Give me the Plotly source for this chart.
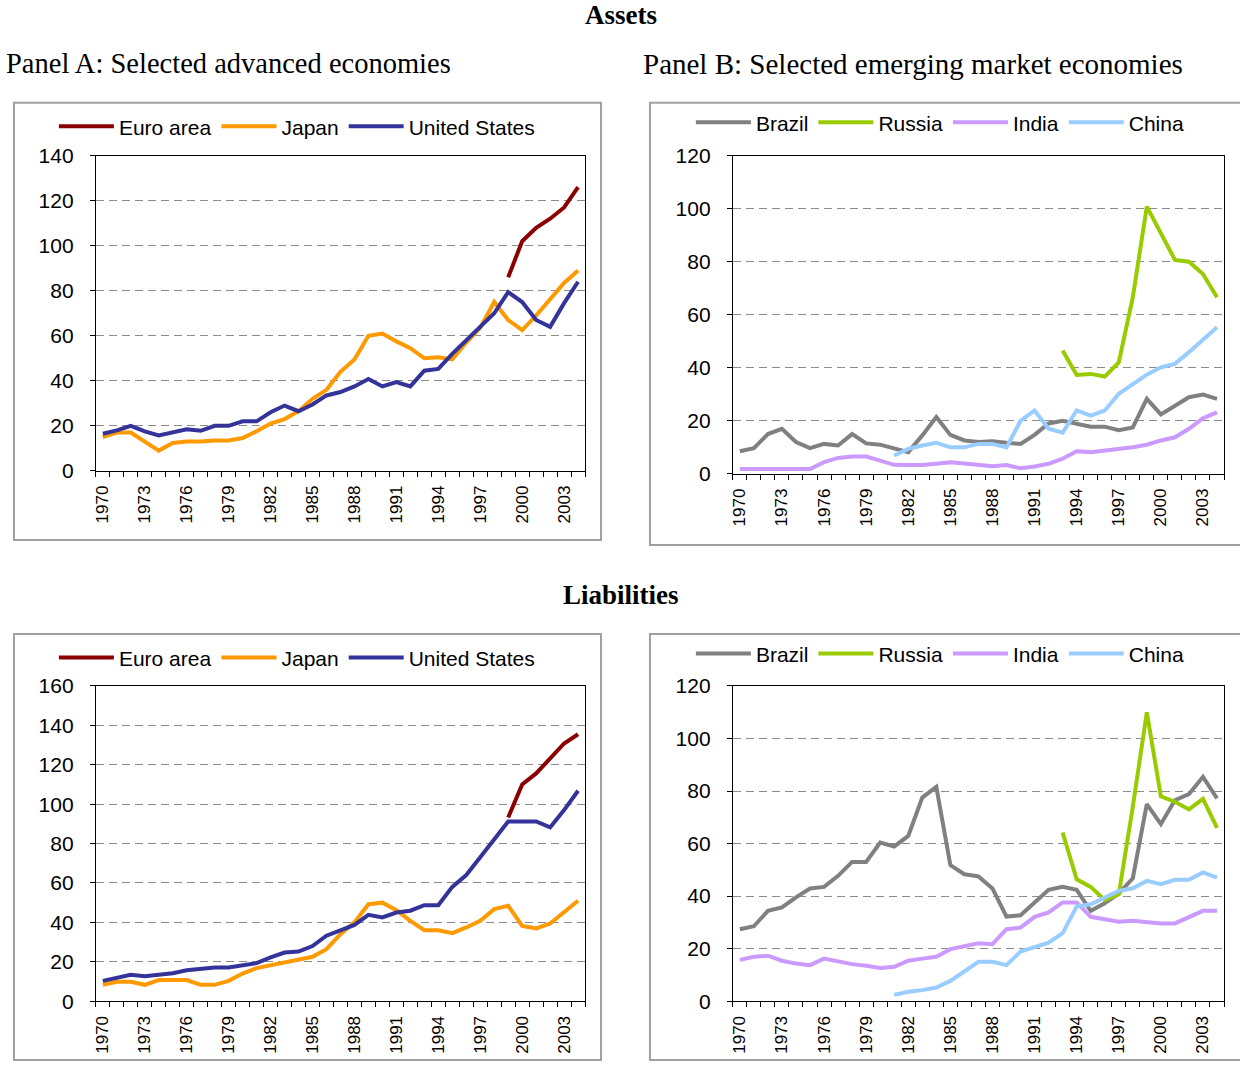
import plotly.graph_objects as go

W, H = 1240, 1072

years = [1970, 1971, 1972, 1973, 1974, 1975, 1976, 1977, 1978, 1979,
         1980, 1981, 1982, 1983, 1984, 1985, 1986, 1987, 1988, 1989,
         1990, 1991, 1992, 1993, 1994, 1995, 1996, 1997, 1998, 1999,
         2000, 2001, 2002, 2003, 2004]
tick_years = [1970, 1973, 1976, 1979, 1982, 1985, 1988, 1991, 1994, 1997, 2000, 2003]

# ---------------- Assets, Panel A ----------------
assets_euro = [None] * 29 + [86, 102, 108, 112, 117, 126]
assets_japan = [15, 17, 17, 13, 9, 12.4, 13, 13, 13.5, 13.5, 14.6, 17.6, 21, 23, 26.5,
                32, 36, 44, 49.5, 60, 61, 57.5, 54.5, 50, 50.5, 49.5, 57, 63.5, 75, 67,
                62.5, 69, 76, 83.5, 89]
assets_us = [16.5, 18, 20, 17.5, 15.7, 17, 18.5, 17.8, 20, 20, 22, 22, 26, 29, 26.5,
             29.5, 33.5, 35, 37.5, 40.8, 37.5, 39.4, 37.5, 44.5, 45.3, 52, 58, 63.5, 70,
             79.4, 75, 67, 64, 74.5, 84]

# ---------------- Assets, Panel B ----------------
assets_brazil = [8.5, 9.7, 15, 17, 12, 9.7, 11.3, 10.7, 15, 11.5, 11, 9.7, 8.2, 14.5,
                 21.4, 14.7, 12.6, 12, 12.3, 11.7, 11.3, 14.7, 19, 20, 19, 17.8, 17.8,
                 16.5, 17.5, 28.3, 22.4, 25.7, 28.9, 29.9, 28.3]
assets_russia = [None] * 23 + [46.5, 37.3, 37.7, 36.7, 42, 66.6, 100.8, 90.5, 80.7, 80,
                               75.4, 66.6]
assets_india = [1.8, 1.8, 1.8, 1.8, 1.8, 1.8, 4.4, 6, 6.5, 6.5, 5, 3.4, 3.3, 3.3, 3.8,
                4.4, 3.9, 3.4, 2.9, 3.3, 2.1, 2.8, 3.8, 5.7, 8.5, 8.2, 8.8, 9.2, 10, 11,
                12.6, 13.8, 17, 21, 23.2]
assets_china = [None] * 11 + [6.9, 9.4, 10.7, 11.7, 10, 10, 11.3, 11.3, 10, 20, 23.9, 17,
                              15.5, 23.9, 22, 23.9, 30.2, 34, 37.4, 40.2, 41.5, 45.9,
                              50.5, 55.3]

# ---------------- Liabilities, Panel A ----------------
liab_euro = [None] * 29 + [93.2, 110, 115.6, 123.4, 130.8, 135.5]
liab_japan = [8.3, 9.8, 9.8, 8.3, 10.7, 10.7, 10.7, 8.3, 8.3, 10.3, 14, 16.8, 18.3, 19.6,
              20.8, 22.5, 26.4, 34, 40, 49.2, 50, 46.2, 40.8, 36, 36, 34.5, 37.4, 40.8,
              46.7, 48.4, 38.2, 36.9, 39.4, 45.5, 51]
liab_us = [10.3, 12, 13.4, 12.7, 13.4, 14.2, 15.7, 16.6, 17.1, 17.1, 18.4, 19.3, 22.2,
           24.7, 25.2, 28, 33.2, 36, 38.7, 43.8, 42.5, 45, 45.9, 48.7, 48.7, 58, 64, 73,
           82.2, 91.2, 91.2, 91.2, 88.2, 97, 106.8]

# ---------------- Liabilities, Panel B ----------------
liab_brazil = [27.4, 28.5, 34.4, 35.7, 39.5, 42.9, 43.5, 47.7, 53, 53, 60.4, 58.9, 62.9,
               77.5, 81.6, 51.8, 48.3, 47.5, 42.9, 32.2, 32.7, 37.8, 42.4, 43.5, 42.4,
               34.4, 37.3, 41, 46.8, 75, 67.4, 76.5, 78.8, 85.4, 77.2]
liab_russia = [None] * 23 + [64.2, 46.4, 43.5, 38.5, 40.7, 74, 110, 78, 75.9, 73, 77, 66]
liab_india = [15.7, 16.9, 17.3, 15.4, 14.3, 13.7, 16.2, 15.1, 14.1, 13.5, 12.6, 13.1, 15.4,
              16.2, 16.9, 19.8, 20.8, 22, 21.7, 27.4, 28, 32.1, 33.8, 37.6, 37.6, 32.1,
              31.2, 30.2, 30.6, 30, 29.6, 29.6, 31.9, 34.4, 34.4]
liab_china = [None] * 11 + [2.4, 3.6, 4.2, 5.2, 7.7, 11.3, 15, 15, 13.7, 18.9, 20.8, 22.3,
                            25.9, 36, 36.9, 39.5, 42, 43, 45.8, 44.5, 46.2, 46.2, 49, 47]

colors = {
    "Euro area": "#8B0000", "Japan": "#FF9900", "United States": "#333399",
    "Brazil": "#808080", "Russia": "#99CC00", "India": "#CC99FF", "China": "#99CCFF",
}

SANS = "Liberation Sans, Arial, sans-serif"
SERIF = "Liberation Serif, Times New Roman, serif"


def px_x(p):
    return p / W


def px_y(p):
    # vertical placement, corrected for the observed vertical rendering offset/scale
    d = (p - 11.4) / 0.978
    return 1 - d / H


fig = go.Figure()


def add(xa, ya, name, vals, legend):
    fig.add_trace(go.Scatter(
        x=years, y=vals, mode="lines", name=name,
        line=dict(color=colors[name], width=4),
        xaxis=xa, yaxis=ya, legend=legend, connectgaps=False,
        hoverinfo="skip"))


add("x", "y", "Euro area", assets_euro, "legend")
add("x", "y", "Japan", assets_japan, "legend")
add("x", "y", "United States", assets_us, "legend")
add("x2", "y2", "Brazil", assets_brazil, "legend2")
add("x2", "y2", "Russia", assets_russia, "legend2")
add("x2", "y2", "India", assets_india, "legend2")
add("x2", "y2", "China", assets_china, "legend2")
add("x3", "y3", "Euro area", liab_euro, "legend3")
add("x3", "y3", "Japan", liab_japan, "legend3")
add("x3", "y3", "United States", liab_us, "legend3")
add("x4", "y4", "Brazil", liab_brazil, "legend4")
add("x4", "y4", "Russia", liab_russia, "legend4")
add("x4", "y4", "India", liab_india, "legend4")
add("x4", "y4", "China", liab_china, "legend4")

boundaries = [y - 0.5 for y in years] + [years[-1] + 0.5]


def xcfg(x0, x1, y_anchor):
    return dict(
        domain=[px_x(x0), px_x(x1)], anchor=y_anchor,
        range=[years[0] - 0.5, years[-1] + 0.5],
        tickmode="array", tickvals=tick_years, ticktext=[str(t) for t in tick_years],
        tickangle=-90, ticks="", showgrid=False, zeroline=False,
        showline=True, linecolor="black", linewidth=1, mirror=True,
        tickfont=dict(family=SANS, size=17, color="black"),
        ticklabelstandoff=7,
        minor=dict(tickmode="array", tickvals=boundaries, ticks="outside", ticklen=5,
                   tickcolor="black", tickwidth=1, showgrid=False),
    )


def ycfg(y0, y1, x_anchor, ymax):
    return dict(
        domain=[max(0.0, px_y(y1)), min(1.0, px_y(y0))], anchor=x_anchor,
        range=[0, ymax], tickmode="linear", tick0=0, dtick=20,
        ticks="outside", ticklen=5, tickcolor="black",
        showline=True, linecolor="black", linewidth=1, mirror=True,
        showgrid=True, gridcolor="#8c8c8c", griddash="8px,5px", gridwidth=1,
        zeroline=False,
        tickfont=dict(family=SANS, size=21, color="black"),
        ticklabelstandoff=12,
    )


def legcfg(x, y):
    return dict(
        orientation="h", x=px_x(x), xanchor="left", y=px_y(y), yanchor="middle",
        font=dict(family=SANS, size=21, color="black"),
        bgcolor="rgba(0,0,0,0)", itemwidth=55, traceorder="normal",
    )


fig.update_layout(
    width=W, height=H,
    margin=dict(l=0, r=0, t=0, b=0),
    paper_bgcolor="white", plot_bgcolor="white",
    showlegend=True,
    xaxis=xcfg(94, 584, "y"), yaxis=ycfg(155, 470, "x", 140),
    xaxis2=xcfg(732, 1224, "y2"), yaxis2=ycfg(155, 473, "x2", 120),
    xaxis3=xcfg(94, 584, "y3"), yaxis3=ycfg(685, 1000, "x3", 160),
    xaxis4=xcfg(732, 1224, "y4"), yaxis4=ycfg(685, 1000, "x4", 120),
    legend=legcfg(52, 126),
    legend2=legcfg(690, 122),
    legend3=legcfg(52, 657),
    legend4=legcfg(690, 653),
)

# outer frames of the four chart boxes
bottom_limit = 1 - 1.0 / H
for (x0, y0, x1, y1) in [(12, 102, 600, 539), (649, 102, 1245, 544),
                         (12, 633, 600, 1070), (649, 633, 1245, 1071)]:
    fig.add_shape(type="rect", xref="paper", yref="paper",
                  x0=px_x(x0), x1=px_x(x1), y0=max(1.0 / H, px_y(y1)), y1=px_y(y0),
                  line=dict(color="#a0a0a0", width=2), fillcolor="rgba(0,0,0,0)",
                  layer="below")

annotations = [
    dict(text="<b>Assets</b>", x=620, y=14, xanchor="center", size=27),
    dict(text="Panel A: Selected advanced economies", x=2, y=63, xanchor="left", size=28.5),
    dict(text="Panel B: Selected emerging market economies", x=640, y=63, xanchor="left", size=29),
    dict(text="<b>Liabilities</b>", x=620, y=594, xanchor="center", size=27),
]
for a in annotations:
    fig.add_annotation(text=a["text"], xref="paper", yref="paper",
                       x=px_x(a["x"]), y=px_y(a["y"]), xanchor=a["xanchor"],
                       yanchor="middle", showarrow=False,
                       font=dict(family=SERIF, size=a["size"], color="black"))

fig.write_html(
    "out.html",
    config={"displayModeBar": False},
    post_script="document.body.style.margin='0px';document.body.style.padding='0px';"
                "document.body.style.overflow='hidden';",
)
